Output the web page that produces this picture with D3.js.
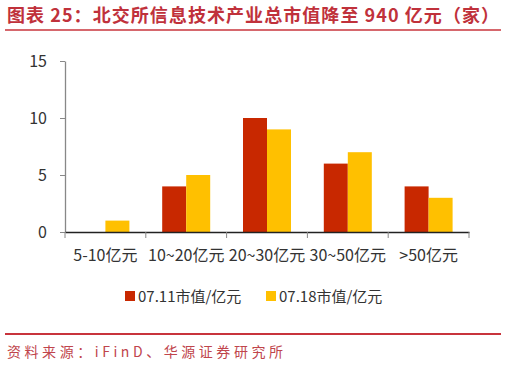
<!DOCTYPE html>
<html>
<head>
<meta charset="utf-8">
<script src="https://cdn.jsdelivr.net/npm/d3@7"></script>
<style>
  body { margin: 0; background: #fff; }
  svg { display: block; font-family: "Noto Sans CJK SC", "Noto Sans", sans-serif; }
</style>
</head>
<body>
<svg width="507" height="366"></svg>
<script>
const categories = ["5-10亿元", "10~20亿元", "20~30亿元", "30~50亿元", ">50亿元"];
const seriesNames = ["07.11市值/亿元", "07.18市值/亿元"];
const values0711 = [0, 4, 10, 6, 4];
const values0718 = [1, 5, 9, 7, 3];
const yTicks = [0, 5, 10, 15];

const colors = ["#C82800", "#FFC000"];
const fontFamily = '"Noto Sans CJK SC", "Noto Sans", sans-serif';
const svg = d3.select("svg");

// title
svg.append("text")
  .attr("x", 7)
  .attr("y", 22)
  .attr("fill", "#C0313B")
  .attr("font-size", 18)
  .attr("font-weight", "bold")
  .attr("textLength", 492)
  .attr("lengthAdjust", "spacing")
  .text("图表 25：北交所信息技术产业总市值降至 940 亿元（家）");

svg.append("line")
  .attr("x1", 5).attr("x2", 501)
  .attr("y1", 30).attr("y2", 30)
  .attr("stroke", "#C8343C")
  .attr("stroke-width", 1.5);

const margin = { left: 65, right: 38, top: 61, bottom: 134 };
const innerWidth = 507 - margin.left - margin.right;
const innerHeight = 366 - margin.top - margin.bottom;

const g = svg.append("g")
  .attr("transform", `translate(${margin.left}, ${margin.top})`);

const xScale = d3.scaleBand()
  .domain(categories)
  .range([0, innerWidth])
  .padding(0);

const xSub = d3.scaleBand()
  .domain(seriesNames)
  .range([0, 48])
  .padding(0);

const yScale = d3.scaleLinear()
  .domain([0, 15])
  .range([innerHeight, 0]);

// y axis
const yAxisG = g.append("g")
  .call(d3.axisLeft(yScale).tickValues(yTicks).tickSize(5).tickPadding(13).tickSizeOuter(0))
  .attr("font-family", fontFamily);
yAxisG.select(".domain").attr("stroke", "#888").attr("stroke-width", 1.3);
yAxisG.selectAll(".tick line").attr("stroke", "#888");
yAxisG.selectAll(".tick text")
  .attr("font-size", 16)
  .attr("fill", "#333");

// bars
const data = categories.map((c, i) => ({ cat: c, vals: [values0711[i], values0718[i]] }));

const groups = g.selectAll(".grp")
  .data(data)
  .join("g")
  .attr("class", "grp")
  .attr("transform", (d) => `translate(${xScale(d.cat) + xScale.bandwidth() / 2 - 24}, 0)`);

groups.selectAll("rect")
  .data((d) => d.vals.map((v, j) => ({ name: seriesNames[j], v, j })))
  .join("rect")
  .attr("x", (d) => xSub(d.name))
  .attr("width", xSub.bandwidth())
  .attr("y", (d) => yScale(d.v))
  .attr("height", (d) => innerHeight - yScale(d.v))
  .attr("fill", (d) => colors[d.j]);

// x axis
const xAxisG = g.append("g")
  .attr("transform", `translate(0, ${innerHeight})`)
  .call(d3.axisBottom(xScale).tickSize(0).tickPadding(18))
  .attr("font-family", fontFamily);
xAxisG.select(".domain").attr("stroke", "#222").attr("stroke-width", 1.3);
xAxisG.selectAll(".tick text")
  .attr("font-size", 16)
  .attr("fill", "#333");

// category boundary ticks
xAxisG.selectAll(".bound")
  .data(d3.range(categories.length + 1))
  .join("line")
  .attr("class", "bound")
  .attr("x1", (i) => i * xScale.step())
  .attr("x2", (i) => i * xScale.step())
  .attr("y1", 0)
  .attr("y2", 6)
  .attr("stroke", "#888");

// legend
const legend = svg.append("g").attr("transform", "translate(125, 291)");
const legendX = [0, 141];
seriesNames.forEach((name, i) => {
  legend.append("rect")
    .attr("x", legendX[i])
    .attr("y", 0)
    .attr("width", 10)
    .attr("height", 10)
    .attr("fill", colors[i]);
  legend.append("text")
    .attr("x", legendX[i] + 13)
    .attr("y", 11)
    .attr("font-size", 15)
    .attr("fill", "#333")
    .text(name);
});

// footer
svg.append("line")
  .attr("x1", 5).attr("x2", 501)
  .attr("y1", 334).attr("y2", 334)
  .attr("stroke", "#C8343C")
  .attr("stroke-width", 2);

svg.append("text")
  .attr("x", 7)
  .attr("y", 357)
  .attr("fill", "#C0454C")
  .attr("font-size", 14)
  .attr("textLength", 276)
  .attr("lengthAdjust", "spacing")
  .text("资料来源：iFinD、华源证券研究所");
</script>
</body>
</html>
